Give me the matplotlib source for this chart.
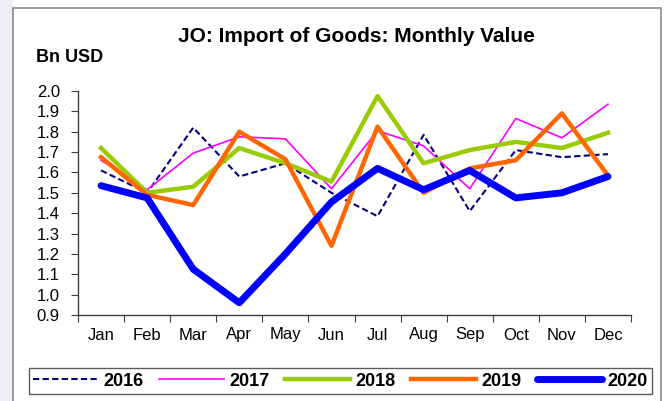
import matplotlib
matplotlib.use("Agg")
import matplotlib.pyplot as plt
from matplotlib.patches import Rectangle

plt.rcParams['font.family'] = ['Liberation Sans', 'DejaVu Sans']

months = ["Jan", "Feb", "Mar", "Apr", "May", "Jun", "Jul", "Aug", "Sep", "Oct", "Nov", "Dec"]
y2016 = [1.61, 1.50, 1.82, 1.58, 1.645, 1.50, 1.385, 1.785, 1.41, 1.71, 1.675, 1.69]
y2017 = [1.66, 1.515, 1.695, 1.775, 1.765, 1.52, 1.805, 1.73, 1.52, 1.865, 1.77, 1.935]
y2018 = [1.72, 1.50, 1.53, 1.72, 1.645, 1.555, 1.975, 1.645, 1.71, 1.75, 1.72, 1.795]
y2019 = [1.675, 1.49, 1.44, 1.80, 1.665, 1.24, 1.825, 1.50, 1.62, 1.66, 1.89, 1.585]
y2020 = [1.535, 1.475, 1.125, 0.96, 1.20, 1.455, 1.62, 1.515, 1.61, 1.475, 1.50, 1.58]
yticks = [0.9, 1.0, 1.1, 1.2, 1.3, 1.4, 1.5, 1.6, 1.7, 1.8, 1.9, 2.0]

W, H = 667, 401
fig = plt.figure(figsize=(W / 100, H / 100), dpi=100)
fig.patch.set_facecolor('white')

# left lavender strip and outer frame
strip = Rectangle((0, 0), 13 / W, 1, transform=fig.transFigure,
                  facecolor='#eeeef7', edgecolor='none', zorder=-3)
frame = Rectangle((13 / W, -0.1), (661 - 13) / W, 1.1 - 8 / H,
                  transform=fig.transFigure, facecolor='white',
                  edgecolor='#8a8a8a', linewidth=1.2, zorder=-2)
fig.add_artist(strip)
fig.add_artist(frame)

ax = fig.add_axes([78 / W, 1 - 315 / H, (631 - 78) / W, (315 - 91) / H])
ax.set_facecolor('none')
ax.set_zorder(1)
x = list(range(len(months)))

l16, = ax.plot(x, y2016, color='#000080', lw=1.5, dashes=(3, 1.6), label='2016')
l17, = ax.plot(x, y2017, color='#ff00ff', lw=1.2, label='2017')
l18, = ax.plot(x, y2018, color='#99cc00', lw=3.2, label='2018')
l19, = ax.plot(x, y2019, color='#ff6600', lw=3.2, label='2019')
l20, = ax.plot(x, y2020, color='#0000ff', lw=5, label='2020', solid_capstyle='round')

ax.set_xlim(-0.5, 11.5)
ax.set_ylim(0.9, 2.0)
ax.set_yticks(yticks)
ax.set_yticklabels([f"{v:.1f}" for v in yticks], fontsize=12)
ax.set_xticks([i - 0.5 for i in range(13)])
ax.set_xticklabels([])
ax.set_xticks(x, minor=True)
ax.set_xticklabels(months, minor=True, fontsize=12)
ax.tick_params(axis='x', which='minor', length=0, pad=9)
ax.tick_params(axis='x', which='major', length=5, direction='out', color='#404040')
ax.tick_params(axis='y', length=5, direction='out', pad=8, color='#404040')
for s in ['top', 'right']:
    ax.spines[s].set_visible(False)
for s in ['left', 'bottom']:
    ax.spines[s].set_color('#404040')
    ax.spines[s].set_linewidth(1.0)

fig.text(356 / W, 1 - 37 / H, "JO: Import of Goods: Monthly Value", ha='center',
         va='center', fontsize=15, fontweight='bold')
fig.text(36 / W, 1 - 58 / H, "Bn USD", ha='left', va='center', fontsize=13,
         fontweight='bold')

leg = fig.legend(handles=[l16, l17, l18, l19, l20], loc='center',
                 bbox_to_anchor=(340.5 / W, 1 - 381 / H), ncol=5, frameon=True,
                 fancybox=False, edgecolor='#333333', handlelength=3.6,
                 handletextpad=0.3, columnspacing=0.85, borderpad=0.25,
                 prop={'weight': 'bold', 'size': 13})
leg.get_frame().set_linewidth(1.0)

fig.savefig("out.png", dpi=100)
